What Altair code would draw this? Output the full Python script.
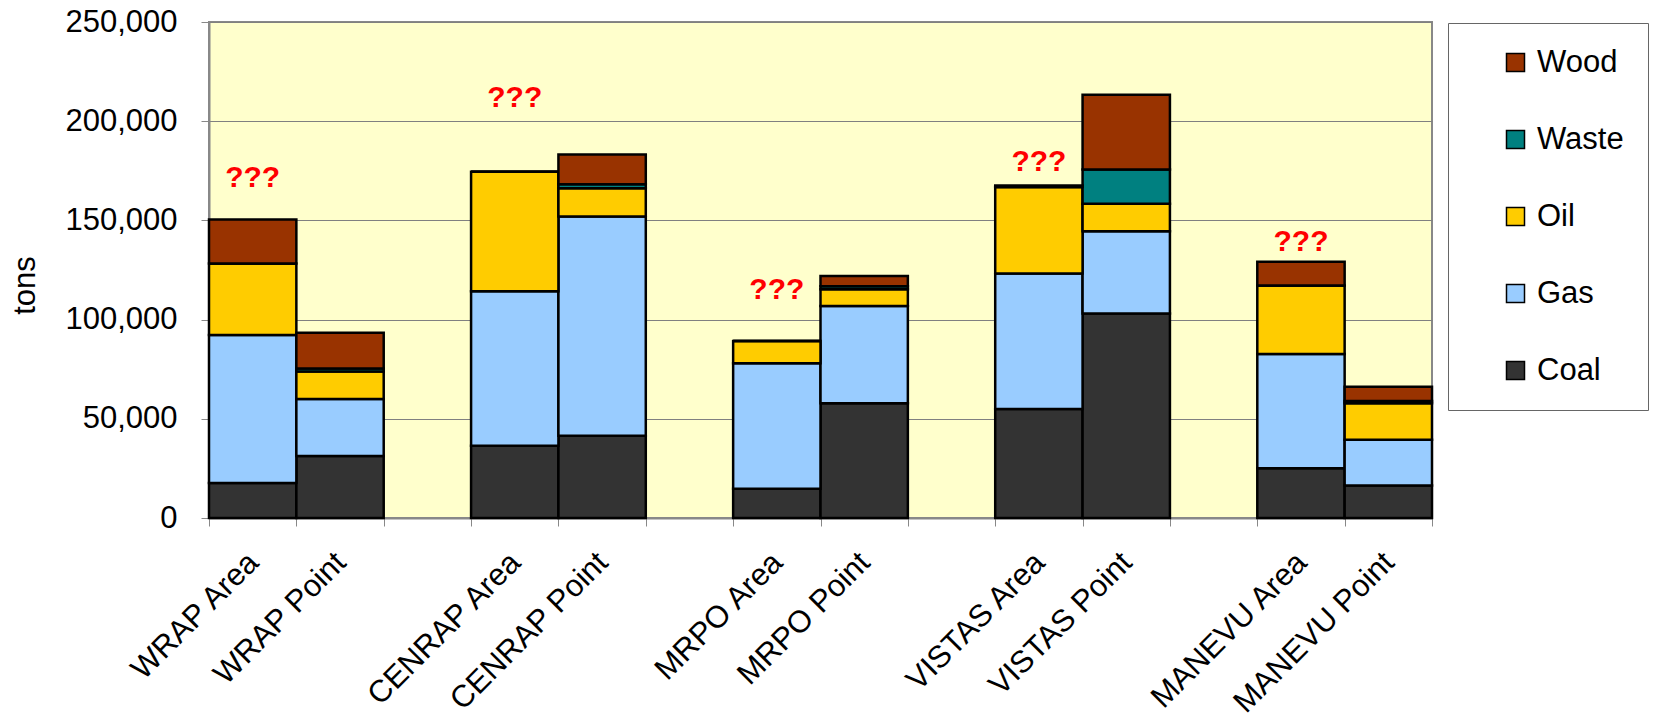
import altair as alt
import pandas as pd

# Emissions by fuel (tons) for each RPO, area and point sources
sources = ["WRAP Area", "WRAP Point", "CENRAP Area", "CENRAP Point",
           "MRPO Area", "MRPO Point", "VISTAS Area", "VISTAS Point",
           "MANEVU Area", "MANEVU Point"]
coal = [17600, 31300, 36400, 41400, 14700, 57800, 55000, 103100, 25100, 16400]
gas = [74600, 28700, 77900, 110600, 63300, 49100, 68200, 41400, 57500, 23000]
oil = [36100, 13900, 60200, 14200, 11200, 8400, 43600, 13900, 34600, 18400]
waste = [0, 1500, 0, 2000, 0, 1500, 0, 17200, 0, 1200]
wood = [22100, 18000, 0, 15000, 0, 5200, 800, 37700, 11900, 7200]

fuels = ["Wood", "Waste", "Oil", "Gas", "Coal"]
fuel_colors = ["#993300", "#008080", "#FFCC00", "#99CCFF", "#333333"]
stack_rank = {"Coal": 0, "Gas": 1, "Oil": 2, "Waste": 3, "Wood": 4}

# Question-mark notes above the area-source bars
note_sources = ["WRAP Area", "CENRAP Area", "MRPO Area", "VISTAS Area", "MANEVU Area"]
note_heights = [171300, 211800, 115000, 179600, 139100]
note_text = "???"

# Category axis: pairs of bars with a blank slot between regions
spacers = [" " * (i + 1) for i in range(4)]
x_domain = []
for i in range(0, len(sources), 2):
    x_domain += sources[i:i + 2]
    if i // 2 < len(spacers):
        x_domain.append(spacers[i // 2])

series = {"Coal": coal, "Gas": gas, "Oil": oil, "Waste": waste, "Wood": wood}
rows = []
for fuel, vals in series.items():
    for src, v in zip(sources, vals):
        rows.append({"source": src, "fuel": fuel, "tons": v, "rank": stack_rank[fuel]})
df = pd.DataFrame(rows)
notes = pd.DataFrame({"source": note_sources, "y": note_heights, "label": note_text})

FONT = "Liberation Sans"

x_enc = alt.X(
    "source:N",
    scale=alt.Scale(domain=x_domain, paddingInner=0, paddingOuter=0),
    axis=alt.Axis(
        title=None, labelAngle=-45, labelFontSize=31, labelFont=FONT,
        labelColor="black", labelPadding=21, labelOffset=-10, tickBand="extent",
        tickSize=8, tickColor="#888888", domainColor="#888888", domainWidth=2,
        labelOverlap=False, labelLimit=400,
    ),
)

bars = alt.Chart(df).mark_bar(stroke="black", strokeWidth=2.5).encode(
    x=x_enc,
    y=alt.Y(
        "sum(tons):Q",
        stack="zero",
        scale=alt.Scale(domain=[0, 250000], nice=False),
        axis=alt.Axis(
            title="tons", titleFontSize=31, titleFont=FONT, titleFontWeight="normal",
            titleColor="black", titleX=-184, titleY=263, titleBaseline="middle",
            titleAlign="center", titleAngle=-90,
            values=[0, 50000, 100000, 150000, 200000, 250000], format=",d",
            labelFontSize=31, labelFont=FONT, labelColor="black", labelPadding=24,
            tickSize=8, tickColor="#888888", domainColor="#888888", domainWidth=2,
            gridColor="#808080", gridWidth=1,
        ),
    ),
    color=alt.Color(
        "fuel:N",
        scale=alt.Scale(domain=fuels, range=fuel_colors),
        legend=alt.Legend(
            orient="none", legendX=1239, legendY=1, title=None,
            symbolType="square", symbolSize=324, symbolStrokeColor="black",
            symbolStrokeWidth=1.5, symbolOffset=28, labelOffset=6,
            labelFontSize=31, labelFont=FONT, labelColor="black",
            labelExpr="datum.label + '          '",
            padding=24, rowPadding=45, strokeColor="#666666", fillColor="white",
        ),
    ),
    order=alt.Order("rank:Q", sort="ascending"),
)

marks = alt.Chart(notes).mark_text(
    color="#FF0000", fontSize=30, fontWeight="bold", font=FONT, baseline="middle"
).encode(
    x=alt.X("source:N", scale=alt.Scale(domain=x_domain, paddingInner=0, paddingOuter=0)),
    y=alt.Y("y:Q"),
    text="label:N",
)

chart = alt.layer(bars, marks).properties(
    width=1223,
    height=496,
    autosize="none",
    padding={"left": 209, "top": 22, "right": 244, "bottom": 203},
    background="white",
).configure_view(
    fill="#FFFFCC", stroke="#888888", strokeWidth=2
)

chart.save("out.html", embed_options={"renderer": "svg", "actions": False})
